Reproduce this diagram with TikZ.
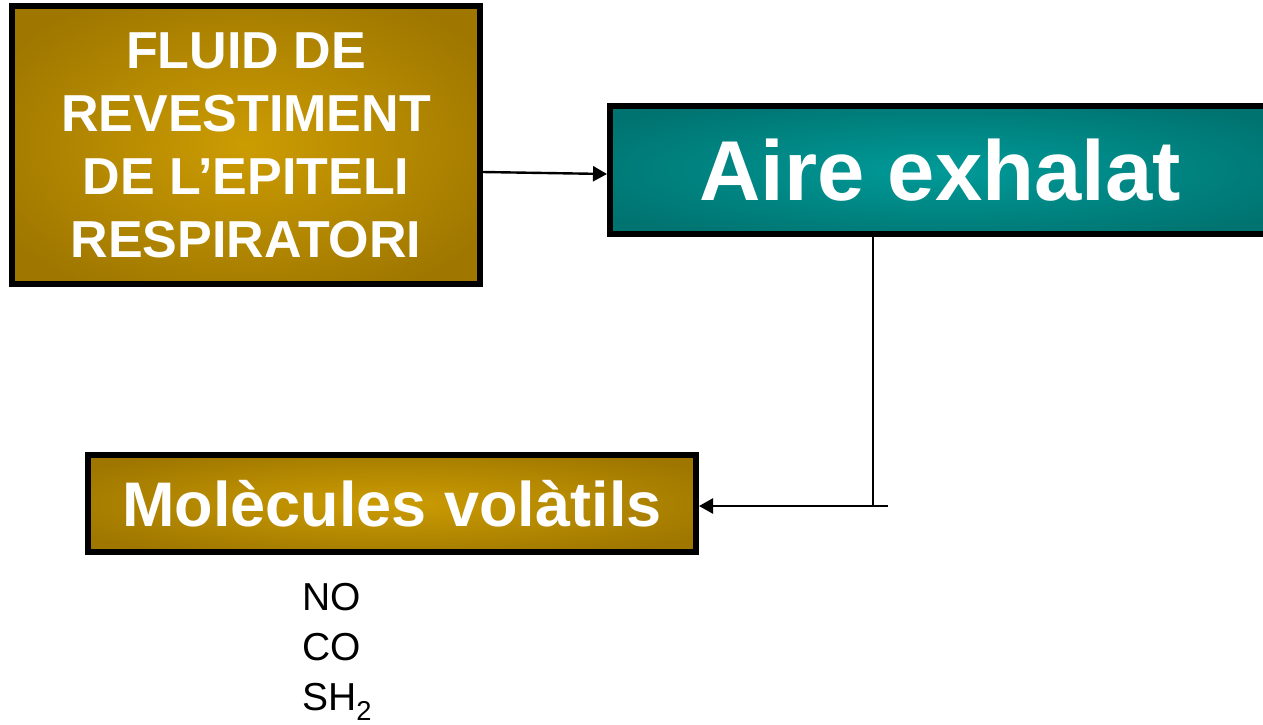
\documentclass[tikz,border=0pt]{standalone}
\usepackage{fontspec}
\setmainfont{Liberation Sans}
\usetikzlibrary{arrows.meta}
\definecolor{goldin}{HTML}{CC9C02}
\definecolor{goldout}{HTML}{9E7600}
\definecolor{tealin}{HTML}{009A98}
\definecolor{tealout}{HTML}{007370}
\pgfdeclareradialshading{goldrad}{\pgfpoint{0bp}{0bp}}{color(0bp)=(goldin); color(31bp)=(goldout); color(72bp)=(goldout)}
\pgfdeclareradialshading{tealrad}{\pgfpoint{0bp}{0bp}}{color(0bp)=(tealin); color(31bp)=(tealout); color(72bp)=(tealout)}
\tikzset{
  box/.style={draw=black, line width=6pt, shade, text=white, align=center, inner sep=0pt, font=\bfseries},
  goldbox/.style={box, shading=goldrad},
  tealbox/.style={box, shading=tealrad},
  conn/.style={line width=2.4pt, draw=black},
  arr/.style={conn, -{Triangle[length=14pt,width=15pt]}},
  chem/.style={anchor=base west, inner sep=0pt, font=\fontsize{39}{47}\selectfont}
}
\begin{document}
\begin{tikzpicture}[x=1pt,y=-1pt]
\clip (0,0) rectangle (1263,724);
\useasboundingbox (0,0) rectangle (1263,724);
\node[goldbox, minimum width=468pt, minimum height=278pt, font=\bfseries\fontsize{52}{63}\selectfont] (fluid) at (246,145)
  {FLUID DE\\REVESTIMENT\\DE L’EPITELI\\RESPIRATORI};
\node[tealbox, minimum width=660pt, minimum height=128pt, font=\bfseries\fontsize{85}{90}\selectfont] (aire) at (940,170)
  {Aire exhalat};
\node[goldbox, minimum width=608pt, minimum height=97pt, font=\bfseries\fontsize{63}{70}\selectfont] (mol) at (392,503.5)
  {Molècules volàtils};
\coordinate (j) at (888,506);
\coordinate (k) at (873,506);
\draw[arr] (fluid.east |- 0,172) -- (aire.west |- 0,174);
\draw[conn] (aire.south -| k) -- (k);
\draw[arr] (j) -- (mol.east |- j);
\node[chem] (no) at (302,610) {NO};
\node[chem] (co) at (302,660) {CO};
\node[chem] (sh) at (302,710) {SH\textsubscript{2}};
\end{tikzpicture}
\end{document}
